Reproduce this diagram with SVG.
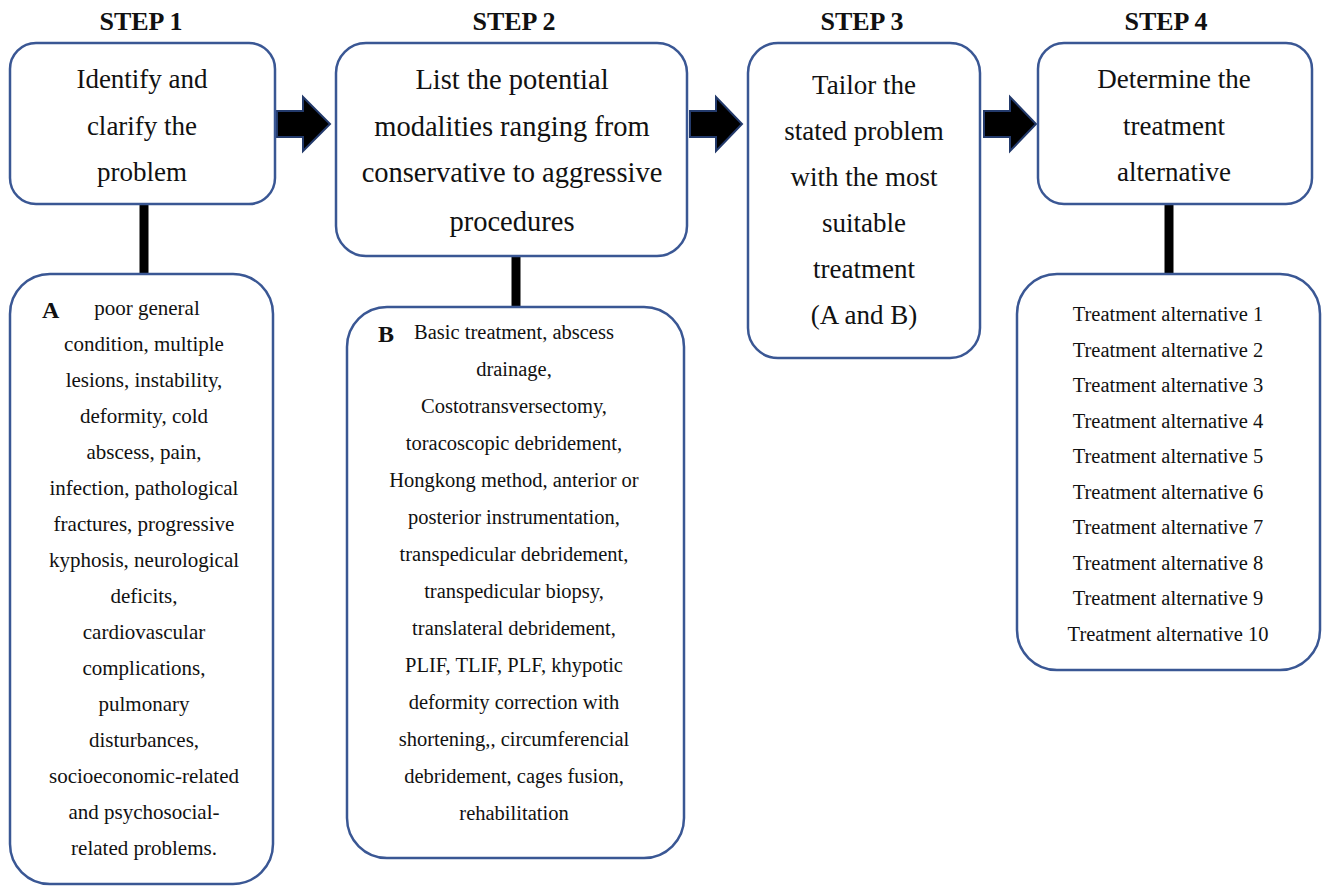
<svg xmlns="http://www.w3.org/2000/svg" width="1324" height="888" viewBox="0 0 1324 888">
<style>
.box{fill:#fff;stroke:#3a5794;stroke-width:2.5}
.t{font-family:"Liberation Serif","Times New Roman",serif;fill:#111;text-anchor:middle}
.h{font-size:27px}
.h2{font-size:28.5px}
.s{font-size:26px;font-weight:bold}
.a{font-size:21px}
.b{font-size:20.5px}
.l{font-size:20.5px}
.lab{font-family:"Liberation Serif",serif;font-weight:bold;font-size:24px;fill:#111}
.arr{fill:#000;stroke:#233a6b;stroke-width:2;stroke-linejoin:miter}
.con{stroke:#000;stroke-width:9}
</style>
<rect width="1324" height="888" fill="#fff"/>
<g id="titles">
<text class="t s" x="141" y="30">STEP 1</text>
<text class="t s" x="514" y="30">STEP 2</text>
<text class="t s" x="862" y="30">STEP 3</text>
<text class="t s" x="1166" y="30">STEP 4</text>
</g>
<g id="connectors">
<line class="con" x1="144" y1="204" x2="144" y2="274"/>
<line class="con" x1="516" y1="256" x2="516" y2="307"/>
<line class="con" x1="1169" y1="204" x2="1169" y2="274"/>
<path class="arr" d="M277,111 H303 V97 L330,124 L303,151 V137 H277 Z"/>
<path class="arr" d="M690,111 H716 V97 L742,124 L716,151 V137 H690 Z"/>
<path class="arr" d="M984,111 H1010 V97 L1036,124 L1010,151 V137 H984 Z"/>
</g>
<g id="step1">
<rect class="box" x="10" y="43" width="265" height="161" rx="26"/>
<text class="t h" x="142" y="88">Identify and</text>
<text class="t h" x="142" y="135">clarify the</text>
<text class="t h" x="142" y="181">problem</text>
</g>
<g id="step2">
<rect class="box" x="336" y="43" width="351" height="213" rx="30"/>
<text class="t h2" x="512" y="89">List the potential</text>
<text class="t h2" x="512" y="136">modalities ranging from</text>
<text class="t h2" x="512" y="182">conservative to aggressive</text>
<text class="t h2" x="512" y="231">procedures</text>
</g>
<g id="step3">
<rect class="box" x="748" y="43" width="232" height="315" rx="30"/>
<text class="t h" x="864" y="94">Tailor the</text>
<text class="t h" x="864" y="140">stated problem</text>
<text class="t h" x="864" y="186">with the most</text>
<text class="t h" x="864" y="232">suitable</text>
<text class="t h" x="864" y="278">treatment</text>
<text class="t h" x="864" y="324">(A and B)</text>
</g>
<g id="step4">
<rect class="box" x="1038" y="43" width="274" height="161" rx="26"/>
<text class="t h" x="1174" y="88">Determine the</text>
<text class="t h" x="1174" y="135">treatment</text>
<text class="t h" x="1174" y="181">alternative</text>
</g>
<g id="boxA">
<rect class="box" x="10" y="274" width="263" height="610" rx="40"/>
<text class="lab" x="42" y="318">A</text>
<g class="t a">
<text x="147" y="315">poor general</text>
<text x="144" y="351">condition, multiple</text>
<text x="144" y="387">lesions, instability,</text>
<text x="144" y="423">deformity, cold</text>
<text x="144" y="459">abscess, pain,</text>
<text x="144" y="495">infection, pathological</text>
<text x="144" y="531">fractures, progressive</text>
<text x="144" y="567">kyphosis, neurological</text>
<text x="144" y="603">deficits,</text>
<text x="144" y="639">cardiovascular</text>
<text x="144" y="675">complications,</text>
<text x="144" y="711">pulmonary</text>
<text x="144" y="747">disturbances,</text>
<text x="144" y="783">socioeconomic-related</text>
<text x="144" y="819">and psychosocial-</text>
<text x="144" y="855">related problems.</text>
</g>
</g>
<g id="boxB">
<rect class="box" x="347" y="307" width="337" height="551" rx="40"/>
<text class="lab" x="378" y="342">B</text>
<g class="t b">
<text x="514" y="339">Basic treatment, abscess</text>
<text x="514" y="376">drainage,</text>
<text x="514" y="413">Costotransversectomy,</text>
<text x="514" y="450">toracoscopic debridement,</text>
<text x="514" y="487">Hongkong method, anterior or</text>
<text x="514" y="524">posterior instrumentation,</text>
<text x="514" y="561">transpedicular debridement,</text>
<text x="514" y="598">transpedicular biopsy,</text>
<text x="514" y="635">translateral debridement,</text>
<text x="514" y="672">PLIF, TLIF, PLF, khypotic</text>
<text x="514" y="709">deformity correction with</text>
<text x="514" y="746">shortening,, circumferencial</text>
<text x="514" y="783">debridement, cages fusion,</text>
<text x="514" y="820">rehabilitation</text>
</g>
</g>
<g id="step4list">
<rect class="box" x="1017" y="274" width="303" height="396" rx="40"/>
<g class="t l">
<text x="1168" y="321">Treatment alternative 1</text>
<text x="1168" y="357">Treatment alternative 2</text>
<text x="1168" y="392">Treatment alternative 3</text>
<text x="1168" y="428">Treatment alternative 4</text>
<text x="1168" y="463">Treatment alternative 5</text>
<text x="1168" y="499">Treatment alternative 6</text>
<text x="1168" y="534">Treatment alternative 7</text>
<text x="1168" y="570">Treatment alternative 8</text>
<text x="1168" y="605">Treatment alternative 9</text>
<text x="1168" y="641">Treatment alternative 10</text>
</g>
</g>
</svg>
